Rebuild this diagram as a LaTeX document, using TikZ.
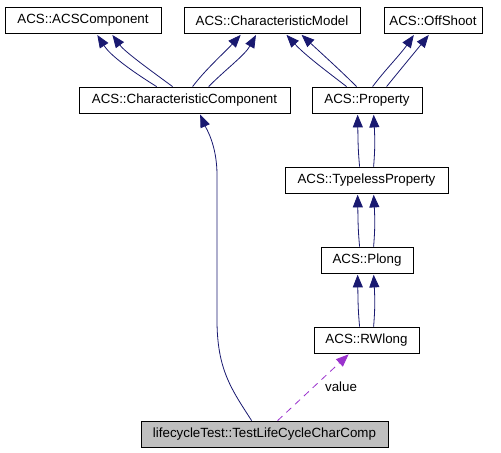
\documentclass[tikz,border=0pt]{standalone}
\usepackage{fontspec}
\setmainfont{Liberation Sans}
\usetikzlibrary{arrows.meta,calc}
\definecolor{edgeblue}{HTML}{191970}
\definecolor{depviolet}{HTML}{9A32CD}
\definecolor{boxgray}{HTML}{BFBFBF}
\begin{document}
\begin{tikzpicture}[x=0.75pt,y=-0.75pt,
  cls/.style={draw=black, fill=white, line width=0.6pt, inner sep=0pt,
    minimum height=19.5pt, font=\fontsize{10}{12}\selectfont},
  inh/.style={draw=edgeblue, line width=0.6pt, shorten >=1pt, -{Triangle[length=9.5pt,width=7.5pt]}},
  dep/.style={draw=depviolet, line width=0.6pt, dash pattern=on 5pt off 4pt, shorten >=1pt,
    -{Triangle[length=9.5pt,width=7.5pt]}}]
\useasboundingbox (0,0) rectangle (501,453);
\node[cls, minimum width=117pt] (acscomp) at (83,20.5) {ACS::ACSComponent};
\node[cls, minimum width=132pt] (charmodel) at (272,20.5) {ACS::CharacteristicModel};
\node[cls, minimum width=73.5pt] (offshoot) at (433,20.5) {ACS::OffShoot};
\node[cls, minimum width=158.25pt] (charcomp) at (184.5,100) {ACS::CharacteristicComponent};
\node[cls, minimum width=82.5pt] (property) at (367,100) {ACS::Property};
\node[cls, minimum width=122.25pt] (typeless) at (366.5,180) {ACS::TypelessProperty};
\node[cls, minimum width=69pt] (plong) at (367,260) {ACS::Plong};
\node[cls, minimum width=78.75pt] (rwlong) at (366.5,340) {ACS::RWlong};
\node[cls, fill=boxgray, minimum width=185.25pt] (lc) at (264.5,434) {lifecycleTest::TestLifeCycleCharComp};
% CharacteristicComponent -> ACSComponent
\draw[inh] ($(charcomp.north west)+(78,0)$) .. controls (130,70) and (110,55) .. ($(acscomp.south west)+(92,0)$);
\draw[inh] ($(charcomp.north west)+(94,0)$) .. controls (150,70) and (125,52) .. ($(acscomp.south west)+(107,0)$);
% CharacteristicComponent -> CharacteristicModel
\draw[inh] ($(charcomp.north west)+(114,0)$) .. controls (205,70) and (225,52) .. ($(charmodel.south west)+(58,0)$);
\draw[inh] ($(charcomp.north west)+(130,0)$) .. controls (225,70) and (245,55) .. ($(charmodel.south west)+(73,0)$);
% Property -> CharacteristicModel
\draw[inh] ($(property.north west)+(35,0)$) .. controls (325,70) and (305,55) .. ($(charmodel.south west)+(102,0)$);
\draw[inh] ($(property.north west)+(45,0)$) .. controls (340,70) and (320,52) .. ($(charmodel.south west)+(117,0)$);
% Property -> OffShoot
\draw[inh] ($(property.north west)+(61,0)$) .. controls (385,70) and (400,55) .. ($(offshoot.south west)+(31,0)$);
\draw[inh] ($(property.north west)+(75,0)$) .. controls (400,70) and (415,52) .. ($(offshoot.south west)+(46,0)$);
% vertical pairs
\draw[inh] ($(typeless.north west)+(75,0)$) .. controls (358,150) and (358,140) .. ($(property.south west)+(46,0)$);
\draw[inh] ($(typeless.north west)+(89,0)$) .. controls (375,150) and (375,140) .. ($(property.south west)+(62,0)$);
\draw[inh] ($(plong.north west)+(39,0)$) .. controls (358,230) and (358,220) .. ($(typeless.south west)+(73,0)$);
\draw[inh] ($(plong.north west)+(53,0)$) .. controls (375,230) and (375,220) .. ($(typeless.south west)+(89,0)$);
\draw[inh] ($(rwlong.north west)+(46,0)$) .. controls (358,310) and (358,300) .. ($(plong.south west)+(37,0)$);
\draw[inh] ($(rwlong.north west)+(60,0)$) .. controls (375,310) and (375,300) .. ($(plong.south west)+(53,0)$);
% TestLifeCycleCharComp -> CharacteristicComponent
\draw[inh] ($(lc.north west)+(111,0)$) .. controls (232,390) and (217,370) .. (217,320)
  -- (217,175) .. controls (217,145) and (206,128) .. ($(charcomp.south west)+(121,0)$);
% dependency
\draw[dep] ($(lc.north west)+(137,0)$) -- node[pos=0.5, anchor=west, xshift=5pt, text=black, font=\fontsize{10}{12}\selectfont] {value} ($(rwlong.south west)+(36,0)$);
\end{tikzpicture}
\end{document}
